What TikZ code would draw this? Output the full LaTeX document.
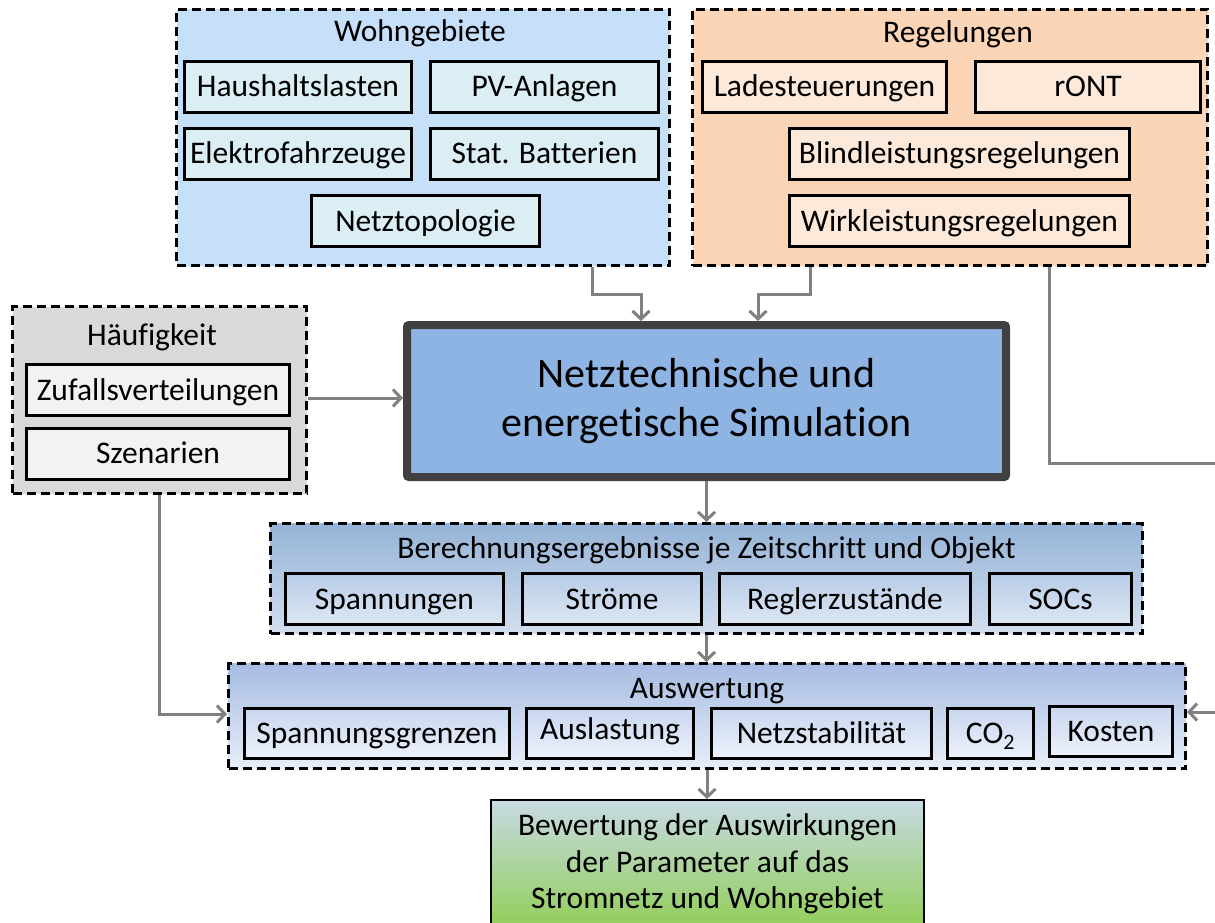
\documentclass[tikz,border=0pt]{standalone}
\usepackage{fontspec}
\setmainfont{Carlito}[Ligatures=NoCommon]
\usetikzlibrary{arrows.meta}
\definecolor{wohnbg}{RGB}{198,224,250}
\definecolor{wohnin}{RGB}{218,238,243}
\definecolor{regbg}{RGB}{251,213,181}
\definecolor{regin}{RGB}{253,233,217}
\definecolor{haebg}{RGB}{217,217,217}
\definecolor{haein}{RGB}{242,242,242}
\definecolor{mainbg}{RGB}{141,180,226}
\definecolor{mainbd}{RGB}{64,64,64}
\definecolor{berTop}{RGB}{149,179,215}
\definecolor{berBot}{RGB}{211,223,239}
\definecolor{berinTop}{RGB}{183,203,230}
\definecolor{berinBot}{RGB}{221,231,243}
\definecolor{ausTop}{RGB}{166,188,226}
\definecolor{ausBot}{RGB}{232,238,249}
\definecolor{ausinTop}{RGB}{200,214,239}
\definecolor{ausinBot}{RGB}{238,242,251}
\definecolor{bewTop}{RGB}{200,218,228}
\definecolor{bewBot}{RGB}{140,205,75}
\definecolor{conn}{RGB}{128,128,128}
\tikzset{
  group/.style={draw=black, line width=3pt, dash pattern=on 9pt off 5pt, inner sep=0pt},
  ibox/.style={draw=black, line width=3pt, inner sep=0pt, text height=20pt, text depth=0pt, minimum height=51pt},
  ttl/.style={inner sep=0pt, text height=20pt, text depth=0pt},
  arr/.style={draw=conn, line width=3pt, -{Straight Barb[length=8pt,width=17pt]}},
  ln/.style={draw=conn, line width=3pt}
}
\begin{document}
\begin{tikzpicture}[x=1pt,y=-1pt,font=\fontsize{31.5}{37}\selectfont]
\useasboundingbox (0,0) rectangle (1215,923);
% Wohngebiete
\node[group, fill=wohnbg, minimum width=493pt, minimum height=256pt] (wohn) at (423,137.5) {};
\node[ttl] (wohnT) at (420,32) {Wohngebiete};
\node[ibox, fill=wohnin, minimum width=227pt] (hh) at (298,87) {Haushaltslasten};
\node[ibox, fill=wohnin, minimum width=228pt] (pv) at (544.5,87) {PV-Anlagen};
\node[ibox, fill=wohnin, minimum width=227pt] (ef) at (298,154) {Elektrofahrzeuge};
\node[ibox, fill=wohnin, minimum width=228pt] (sb) at (544.5,154) {Stat. Batterien};
\node[ibox, fill=wohnin, minimum width=228pt] (nt) at (425.5,221) {Netztopologie};
% Regelungen
\node[group, fill=regbg, minimum width=515pt, minimum height=256pt] (regel) at (950,137.5) {};
\node[ttl] (regelT) at (958,33) {Regelungen};
\node[ibox, fill=regin, minimum width=244pt] (ls) at (824.5,87) {Ladesteuerungen};
\node[ibox, fill=regin, minimum width=225pt] (ront) at (1088,87) {rONT};
\node[ibox, fill=regin, minimum width=340pt] (bl) at (959.5,154) {Blindleistungsregelungen};
\node[ibox, fill=regin, minimum width=340pt] (wl) at (959.5,221) {Wirkleistungsregelungen};
% Haeufigkeit
\node[group, fill=haebg, minimum width=294pt, minimum height=187pt] (haeuf) at (159.5,400) {};
\node[ttl] (haeufT) at (152,335) {Häufigkeit};
\node[ibox, fill=haein, minimum width=263pt] (zv) at (158,390) {Zufallsverteilungen};
\node[ibox, fill=haein, minimum width=263pt] (sz) at (158,453.5) {Szenarien};
% Main
\node[draw=mainbd, line width=8pt, fill=mainbg, rounded corners=2pt, minimum width=599pt, minimum height=152pt, align=center, font=\fontsize{42}{49}\selectfont] (main) at (706.5,401) {Netztechnische und\\energetische Simulation};
% Berechnungsergebnisse
\node[group, top color=berTop, bottom color=berBot, minimum width=872pt, minimum height=110pt] (ber) at (706.5,578.5) {};
\node[ttl] (berT) at (706.5,548) {Berechnungsergebnisse je Zeitschritt und Objekt};
\node[ibox, top color=berinTop, bottom color=berinBot, minimum width=218pt] (sp) at (394.5,599) {Spannungen};
\node[ibox, top color=berinTop, bottom color=berinBot, minimum width=179pt] (st) at (612,599) {Ströme};
\node[ibox, top color=berinTop, bottom color=berinBot, minimum width=251pt] (rz) at (845,599) {Reglerzustände};
\node[ibox, top color=berinTop, bottom color=berinBot, minimum width=142pt] (soc) at (1060.5,599) {SOCs};
% Auswertung
\node[group, top color=ausTop, bottom color=ausBot, minimum width=957pt, minimum height=105pt] (ausw) at (707,716) {};
\node[ttl] (auswT) at (707,688) {Auswertung};
\node[ibox, top color=ausinTop, bottom color=ausinBot, minimum width=265pt, minimum height=50pt] (sg) at (377,733.5) {Spannungsgrenzen};
\node[ibox, top color=ausinTop, bottom color=ausinBot, minimum width=167pt, minimum height=50pt, text height=12pt] (al) at (610,733.5) {Auslastung};
\node[ibox, top color=ausinTop, bottom color=ausinBot, minimum width=220pt, minimum height=50pt] (ns) at (821.5,733.5) {Netzstabilität};
\node[ibox, top color=ausinTop, bottom color=ausinBot, minimum width=86pt, minimum height=50pt] (co) at (990.5,733.5) {CO\textsubscript{2}};
\node[ibox, top color=ausinTop, bottom color=ausinBot, minimum width=123pt, minimum height=50pt] (ko) at (1111,731.5) {Kosten};
% Bewertung
\node[draw=black, line width=2pt, top color=bewTop, bottom color=bewBot, minimum width=433pt, minimum height=140pt] (bew) at (707.5,870) {};
\node[align=center, inner sep=0pt, font=\fontsize{31.5}{36.5}\selectfont] (bewT) at (707.5,864) {Bewertung der Auswirkungen\\der Parameter auf das\\Stromnetz und Wohngebiet};
% connectors
\coordinate (kW) at (592,294);
\coordinate (kW2) at (641,294);
\coordinate (kR) at (810,294);
\coordinate (kR2) at (758,294);
\coordinate (kH) at (0,398);
\coordinate (kH2) at (159,714);
\coordinate (kR3) at (1049,463);
\coordinate (kR4) at (1240,463);
\coordinate (kR5) at (1240,712);
\draw[arr] (wohn.south -| kW) -- (kW) -- (kW2) -- (main.north -| kW2);
\draw[arr] (regel.south -| kR) -- (kR) -- (kR2) -- (main.north -| kR2);
\draw[arr] (haeuf.east |- kH) -- (main.west |- kH);
\draw[arr] (main.south) -- (main.south |- ber.north);
\draw[arr] (ber.south) -- (ber.south |- ausw.north);
\draw[arr] (ausw.south) -- (ausw.south |- bew.north);
\draw[arr] (haeuf.south -| kH2) -- (kH2) -- (ausw.west |- kH2);
\draw[arr] (regel.south -| kR3) -- (kR3) -- (kR4) -- (kR5) -- (ausw.east |- kR5);
\end{tikzpicture}
\end{document}
